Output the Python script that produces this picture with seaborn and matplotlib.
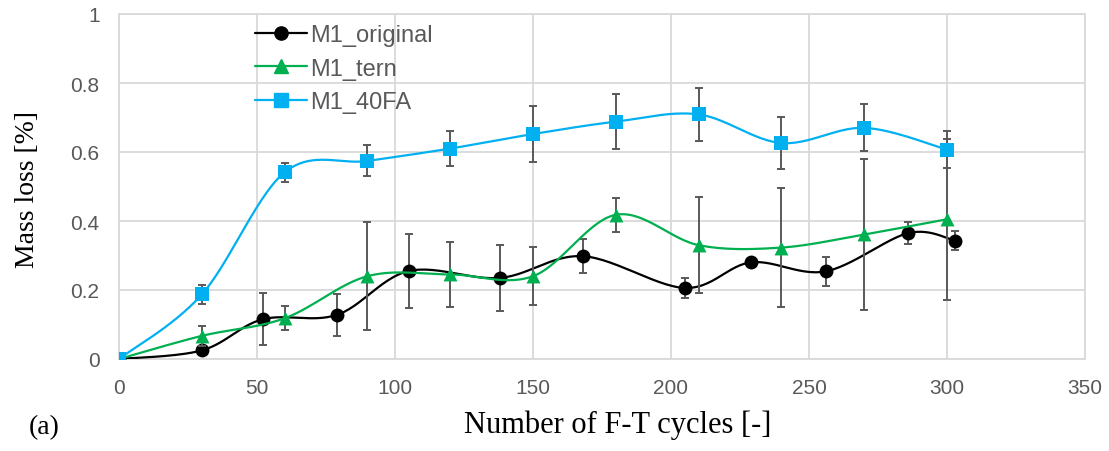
import numpy as np
import pandas as pd
import matplotlib
matplotlib.use("Agg")
import matplotlib.pyplot as plt
from matplotlib.lines import Line2D
import seaborn as sns

# ---- data ----
orig_x = [0, 30, 52, 79, 105, 138, 168, 205, 229, 256, 286, 303]
orig_y = [0, 0.025, 0.115, 0.128, 0.255, 0.235, 0.298, 0.206, 0.28, 0.254, 0.365, 0.343]
orig_err = [0, 0.0, 0.075, 0.06, 0.107, 0.095, 0.05, 0.03, 0.0, 0.043, 0.033, 0.027]

tern_x = [0, 30, 60, 90, 120, 150, 180, 210, 240, 270, 300]
tern_y = [0, 0.067, 0.118, 0.24, 0.245, 0.24, 0.418, 0.33, 0.323, 0.361, 0.405]
tern_err = [0, 0.03, 0.035, 0.156, 0.094, 0.084, 0.05, 0.14, 0.172, 0.218, 0.233]

fa_x = [0, 30, 60, 90, 120, 150, 180, 210, 240, 270, 300]
fa_y = [0, 0.187, 0.541, 0.574, 0.61, 0.652, 0.688, 0.709, 0.626, 0.67, 0.607]
fa_err = [0, 0.027, 0.028, 0.045, 0.052, 0.082, 0.08, 0.076, 0.075, 0.068, 0.053]

series_names = ["M1_original", "M1_tern", "M1_40FA"]
x_ticks = [0, 50, 100, 150, 200, 250, 300, 350]
y_ticks = [0, 0.2, 0.4, 0.6, 0.8, 1.0]
y_tick_labels = ["0", "0.2", "0.4", "0.6", "0.8", "1"]

colors = ["#000000", "#00B050", "#00B0F0"]
markers = ["o", "^", "s"]
msizes = [10, 10, 10.5]


def excel_smooth(x, y, n=30):
    """Catmull-Rom style Bezier smoothing like Excel's smoothed line."""
    x = np.asarray(x, float)
    y = np.asarray(y, float)
    P = np.column_stack([x, y])
    out = [P[0]]
    m = len(P)
    for i in range(m - 1):
        p0 = P[i - 1] if i > 0 else P[i]
        p1 = P[i]
        p2 = P[i + 1]
        p3 = P[i + 2] if i + 2 < m else P[i + 1]
        c1 = p1 + (p2 - p0) / 6.0
        c2 = p2 - (p3 - p1) / 6.0
        t = np.linspace(0, 1, n)[1:, None]
        seg = ((1 - t) ** 3) * p1 + 3 * ((1 - t) ** 2) * t * c1 + 3 * (1 - t) * t ** 2 * c2 + t ** 3 * p2
        out.extend(seg)
    out = np.array(out)
    return out[:, 0], out[:, 1]


sns.set_theme(style="white")
plt.rcParams["font.family"] = ["Liberation Sans", "DejaVu Sans"]

fig = plt.figure(figsize=(11.09, 4.52), dpi=100)
ax = fig.add_axes([119 / 1109, 1 - 360 / 452, (1085 - 119) / 1109, (360 - 15) / 452])

all_data = [(orig_x, orig_y, orig_err), (tern_x, tern_y, tern_err), (fa_x, fa_y, fa_err)]

for k, ((xs, ys, es), name) in enumerate(zip(all_data, series_names)):
    sx, sy = excel_smooth(xs, ys)
    df = pd.DataFrame({"x": sx, "y": sy})
    sns.lineplot(data=df, x="x", y="y", sort=False, ax=ax, color=colors[k],
                 linewidth=1.6, zorder=3 + k, estimator=None)
    ax.errorbar(xs, ys, yerr=es, fmt="none", ecolor="#595959", elinewidth=1.4,
                capsize=3, capthick=1.4, zorder=3 + k)
    sns.scatterplot(x=xs, y=ys, ax=ax, marker=markers[k], color=colors[k],
                    s=msizes[k] ** 2, edgecolor=colors[k], linewidth=0, zorder=4 + k)

ax.set_xlim(0, 350)
ax.set_ylim(0, 1)
ax.set_xticks(x_ticks)
ax.set_yticks(y_ticks)
ax.set_yticklabels(y_tick_labels)
ax.grid(True, color="#d9d9d9", linewidth=1.3)
ax.set_axisbelow(True)
for sp in ax.spines.values():
    sp.set_color("#d9d9d9")
    sp.set_linewidth(1.3)
ax.tick_params(axis="both", length=0, labelsize=15, colors="#595959")
ax.tick_params(axis="x", pad=14)
ax.tick_params(axis="y", pad=14)
ax.set_xlabel("")
ax.set_ylabel("")

handles = [Line2D([0], [0], color=colors[k], marker=markers[k], markersize=msizes[k] * 0.95,
                  linewidth=1.6) for k in range(3)]
leg = ax.legend(handles, series_names, loc="upper left", bbox_to_anchor=(0.1408, 0.9705),
                frameon=False, fontsize=17, handlelength=2.2, handletextpad=0.15,
                borderpad=0, borderaxespad=0, labelspacing=0.48)
for t in leg.get_texts():
    t.set_color("#595959")

serif = ["Liberation Serif", "DejaVu Serif"]
fig.text(618 / 1109, 1 - 425 / 452, "Number of F-T cycles [-]", family=serif,
         fontsize=22, ha="center", va="center", color="#000000")
fig.text(28 / 1109, 1 - 190 / 452, "Mass loss [%]", family=serif, rotation=90,
         fontsize=20, ha="center", va="center", color="#000000")
fig.text(44 / 1109, 1 - 428 / 452, "(a)", family=serif, fontsize=20,
         ha="center", va="center", color="#000000")

fig.savefig("out.png", dpi=100)
